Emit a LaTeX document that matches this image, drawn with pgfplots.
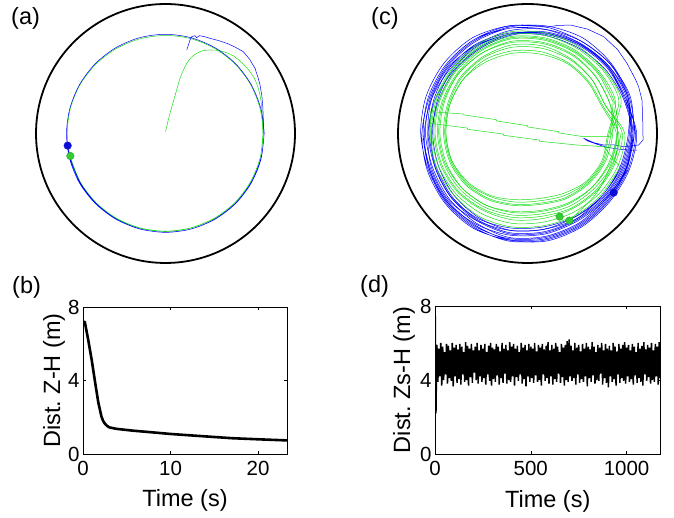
\documentclass[border=0pt]{standalone}
\usepackage{fontspec}
\setmainfont{Liberation Sans}
\usepackage{pgfplots}
\pgfplotsset{compat=1.18}
\usepgfplotslibrary{polar}

\definecolor{trajblue}{rgb}{0,0,1}
\definecolor{trajgreen}{rgb}{0.1,0.88,0.1}
\definecolor{dotblue}{rgb}{0.05,0.05,0.85}
\definecolor{dotgreen}{rgb}{0.2,0.8,0.2}

\pgfplotsset{
  arena/.style={hide axis, scale only axis, width=264pt, height=264pt,
    xmin=-11, xmax=11, ymin=-11, ymax=11, clip=false, anchor=south west},
  dist/.style={scale only axis, anchor=south west, ymin=0, ymax=8, ytick={0,4,8},
    tick align=inside, major tick length=3pt,
    axis line style={line width=0.7pt},
    every tick/.style={black, line width=0.6pt},
    tick label style={font=\fontsize{20.5}{22}\selectfont},
    label style={font=\fontsize{23.5}{25}\selectfont},
    /pgf/number format/assume math mode=true,
    /pgf/number format/1000 sep={},
    xticklabel style={yshift=-4pt},
    xlabel={Time (s)},
    xlabel style={at={(axis description cs:0.5,-0.36)}, anchor=base},
  },
  traj/.style={line width=0.5pt, line join=round},
}

\begin{document}
\begin{tikzpicture}
\path (0,0) rectangle (674pt,518pt);

% ---------------- (a) ----------------
\begin{axis}[arena, at={(33.5pt,252.5pt)}]
\draw[line width=1.8pt] (axis cs:0,0) circle[radius=10.79];
% green: from centre, then round the ring
\addplot[traj, trajgreen, smooth] coordinates {
 (0,0.15)(0.3,1.4)(0.65,2.65)(0.95,3.7)(1.21,4.6)(1.5,5.3)(1.77,5.85)(2.15,6.35)
 (2.6,6.68)(3.1,6.9)(3.71,6.96)(4.3,6.93)(4.82,6.82)(5.4,6.6)(5.93,6.27)(6.5,5.77)
 (7.04,5.15)(7.45,4.5)(7.73,3.77)(7.93,2.9)(8.02,2.1)(8.07,1.3)(8.1,0.6)(8.12,0)};
\addplot[traj, trajgreen, data cs=polar, smooth] coordinates {
 (0,8.12)(-15,8.15)(-30,8.17)(-45,8.18)(-60,8.17)(-75,8.16)(-90,8.17)(-105,8.18)
 (-120,8.2)(-135,8.2)(-150,8.19)(-165,8.18)(-180,8.19)(-195,8.2)(-210,8.2)(-225,8.19)
 (-240,8.18)(-255,8.17)(-270,8.17)(-285,8.18)(-300,8.19)(-315,8.19)(-330,8.18)(-345,8.15)
 (-360,8.13)(-375,8.14)(-390,8.15)(-405,8.16)(-420,8.15)(-435,8.14)(-450,8.14)(-465,8.15)
 (-480,8.16)(-495,8.17)(-510,8.17)(-525,8.17)(-526.7,8.18)};
% blue: from near the top, then round the ring
\addplot[traj, trajblue] coordinates {
 (1.77,6.96)(1.95,7.5)(2.04,7.79)(2.18,8.07)(2.46,8.15)(2.6,7.98)(2.82,8.15)(3.2,8.08)
 (3.71,7.93)(4.4,7.75)(5.1,7.52)(5.8,7.2)(6.48,6.82)(7.0,6.2)(7.46,5.43)(7.7,4.7)
 (7.88,4.04)(8.02,3.2)(8.1,2.38)(8.14,1.5)(8.16,0.71)(8.22,0)};
\addplot[traj, trajblue, data cs=polar, smooth] coordinates {
 (0,8.22)(-15,8.24)(-30,8.25)(-45,8.26)(-60,8.25)(-75,8.24)(-90,8.23)(-105,8.24)
 (-120,8.25)(-135,8.26)(-150,8.27)(-165,8.26)(-180,8.25)(-195,8.24)(-210,8.24)(-225,8.25)
 (-240,8.26)(-255,8.27)(-270,8.27)(-285,8.26)(-300,8.25)(-315,8.24)(-330,8.22)(-345,8.21)
 (-360,8.2)(-375,8.21)(-390,8.22)(-405,8.23)(-420,8.23)(-435,8.24)(-450,8.24)(-465,8.23)
 (-480,8.22)(-495,8.21)(-510,8.2)(-525,8.2)(-532.7,8.2)};
\addplot[only marks, mark=*, mark size=3.8pt, dotblue] coordinates {(-8.15,-1.01)};
\addplot[only marks, mark=*, mark size=3.8pt, dotgreen, mark options={draw=dotgreen!80!black}] coordinates {(-7.93,-1.875)};
\end{axis}

% ---------------- (c) ----------------
\begin{axis}[arena, at={(395.5pt,252.5pt)}]
\draw[line width=1.8pt] (axis cs:0,0) circle[radius=10.79];
% blue loops
\addplot[traj, trajblue, data cs=polar, smooth] coordinates {
 (0,8.9)(-20,8.8)(-40,8.7)(-60,8.8)(-80,8.9)(-100,9.0)(-120,9.1)(-140,9.0)(-160,8.9)
 (-180,8.8)(-200,8.7)(-220,8.8)(-240,8.9)(-260,9.0)(-280,9.1)(-300,9.2)(-320,9.1)(-340,9.0)
 (0,8.9)(-20,8.7)(-40,8.5)(-60,8.4)(-80,8.5)(-100,8.6)(-120,8.7)(-140,8.8)(-160,8.7)
 (-180,8.6)(-200,8.5)(-220,8.4)(-240,8.5)(-260,8.7)(-280,8.8)(-300,8.9)(-320,9.0)(-340,8.9)
 (0,8.7)(-20,8.5)(-40,8.3)(-60,8.2)(-80,8.1)(-100,8.2)(-120,8.4)(-140,8.6)(-160,8.5)
 (-180,8.3)(-200,8.2)(-220,8.1)(-240,8.2)(-260,8.4)(-280,8.6)(-300,8.7)(-320,8.8)(-340,8.8)
 (0,8.6)(-20,8.4)(-40,8.2)(-60,8.0)(-80,7.9)(-100,8.0)(-120,8.2)(-140,8.3)(-160,8.2)
 (-180,8.0)(-200,7.9)(-220,8.0)(-240,8.1)(-260,8.3)(-280,8.5)(-300,8.6)(-320,8.7)(-340,8.7)
 (0,9.0)(-20,8.9)(-40,8.8)(-60,8.9)(-80,9.0)(-100,9.1)(-120,9.0)(-140,8.9)(-160,8.8)
 (-180,8.9)(-200,9.0)(-220,9.1)(-240,9.2)(-260,9.1)(-280,9.0)};
\addplot[traj, trajblue] coordinates {
 (1.56,8.86)(2.5,9.0)(3.57,9.04)(5.0,8.7)(6.35,8.07)(7.5,7.0)(8.29,5.85)(9.0,4.5)
 (9.26,3.9)(9.54,2.79)(9.6,1.2)(9.63,-0.54)(9.26,-0.96)(8.01,-1.1)(7.2,-0.95)(6.35,-0.96)
 (5.51,-0.76)(4.68,-0.4)(5.0,-0.62)(5.8,-0.9)(6.6,-1.15)(7.6,-1.3)(8.6,-1.4)(9.13,-1.38)};
\addplot[traj, trajblue, data cs=polar, smooth] coordinates {
 (-20,8.9)(-40,8.5)(-60,8.6)(-80,8.7)(-100,8.8)(-120,8.6)(-140,8.5)(-160,8.4)
 (-180,8.5)(-200,8.6)(-220,8.7)(-240,8.8)(-260,8.9)(-280,8.8)(-300,8.7)(-320,8.8)(-340,8.9)
 (0,8.5)(-20,8.3)(-40,8.1)(-60,8.2)(-80,8.3)(-100,8.4)(-120,8.3)(-140,8.2)(-160,8.1)
 (-180,8.2)(-200,8.3)(-220,8.5)(-240,8.6)(-260,8.5)(-280,8.4)(-300,8.5)(-320,8.6)(-340,8.6)
 (0,9.1)(-20,9.0)(-40,8.9)(-60,9.0)(-80,9.1)(-100,9.0)(-120,8.8)(-140,8.7)(-160,8.6)
 (-180,8.7)(-200,8.8)(-220,8.9)(-240,9.0)(-260,9.1)(-280,9.0)(-300,8.9)(-320,9.0)(-340,9.1)
 (0,8.8)(-20,8.7)(-40,8.6)(-60,8.7)(-80,8.8)(-100,8.9)(-120,8.9)(-140,8.8)(-160,8.7)
 (-180,8.7)(-200,8.8)(-220,8.9)(-240,9.0)(-260,8.9)(-280,8.8)(-300,8.7)(-320,8.8)(-340,8.9)
 (0,8.4)(-20,8.2)(-40,8.1)(-60,8.0)(-80,8.1)(-100,8.2)(-120,8.1)(-140,8.0)(-160,7.9)
 (-180,7.9)(-200,8.0)(-220,8.2)(-240,8.4)(-260,8.4)(-280,8.3)(-300,8.3)(-320,8.4)(-340,8.5)
 (0,8.7)(-20,8.6)(-40,8.4)(-60,8.3)(-80,8.4)(-100,8.5)(-120,8.4)(-140,8.3)(-160,8.2)
 (-180,8.3)(-200,8.5)(-220,8.6)(-240,8.5)(-260,8.4)(-280,8.5)(-300,8.6)(-320,8.7)(-340,8.6)
 (0,8.8)(-20,8.75)(-34.5,8.71)};
% green loops
\addplot[traj, trajgreen, data cs=polar, smooth] coordinates {
 (0,7.8)(-20,7.6)(-40,7.4)(-60,7.2)(-80,7.0)(-100,7.1)(-120,7.3)(-140,7.5)(-160,7.6)
 (-180,7.7)(-200,7.8)(-220,7.9)(-240,8.0)(-260,8.1)(-280,8.0)(-300,7.9)(-320,7.8)(-340,7.7)
 (0,7.5)(-20,7.3)(-40,7.0)(-60,6.7)(-80,6.5)(-100,6.6)(-120,6.9)(-140,7.1)(-160,7.2)
 (-180,7.3)(-200,7.4)(-220,7.6)(-240,7.7)(-260,7.8)(-280,7.7)(-300,7.6)(-320,7.4)(-340,7.3)
 (0,7.1)(-20,6.9)(-40,6.6)(-60,6.3)(-80,6.0)(-100,6.1)(-120,6.4)(-140,6.7)(-160,6.9)
 (-180,7.0)(-200,7.1)(-220,7.3)(-240,7.4)(-260,7.5)(-280,7.4)(-300,7.2)(-320,7.0)(-340,6.9)
 (0,8.1)(-20,8.0)(-40,7.8)(-60,7.6)(-80,7.5)(-100,7.6)(-120,7.7)(-140,7.8)(-160,7.9)
 (-180,8.0)(-200,8.1)(-220,8.2)(-240,8.3)(-260,8.4)(-280,8.3)(-300,8.2)(-320,8.2)(-340,8.1)
 (0,6.8)(-20,6.7)(-40,6.4)(-60,6.0)(-80,5.7)(-100,5.8)(-120,6.1)(-140,6.5)(-160,6.7)
 (-180,6.8)(-200,6.9)(-220,7.0)(-240,7.1)(-260,7.0)(-280,6.9)(-300,6.8)(-320,6.7)(-340,6.7)
 (0,7.6)(-20,7.5)(-40,7.2)(-60,7.0)(-80,6.8)(-100,6.9)(-120,7.1)(-140,7.3)(-160,7.4)
 (-180,7.5)(-200,7.6)(-220,7.7)(-240,7.9)(-260,8.0)(-280,7.9)(-300,7.8)(-320,7.7)(-340,7.6)};
\addplot[traj, trajgreen] coordinates {
 (7.14,2.6)(6.88,-0.27)(4.68,-0.27)(2.6,0.05)(2.6,0.15)(0.0,0.55)(0.0,0.65)(-2.6,1.05)(-2.6,1.15)
 (-5.3,1.55)(-5.3,1.62)(-8.1,1.82)(-8.1,0.85)(-5.0,0.45)(-5.0,0.35)(-2.0,-0.05)(-2.0,-0.15)
 (1.0,-0.55)(1.0,-0.65)(4.13,-0.96)(6.35,-1.1)(7.7,-2.8)};
\addplot[traj, trajgreen, data cs=polar, smooth] coordinates {
 (-20,8.2)(-40,8.0)(-60,7.9)(-80,7.8)(-100,7.9)(-120,8.0)(-140,8.0)(-160,8.1)
 (-180,8.1)(-200,8.2)(-220,8.3)(-240,8.5)(-260,8.6)(-280,8.5)(-300,8.4)(-320,8.3)(-340,8.3)
 (0,7.0)(-20,6.8)(-40,6.5)(-60,6.2)(-80,5.9)(-100,6.0)(-120,6.3)(-140,6.6)(-160,6.8)
 (-180,6.9)(-200,7.0)(-220,7.2)(-240,7.3)(-260,7.3)(-280,7.2)(-300,7.1)(-320,7.0)(-340,6.9)
 (0,7.9)(-20,7.7)(-40,7.5)(-60,7.3)(-80,7.2)(-100,7.3)(-120,7.4)(-140,7.6)(-160,7.7)
 (-180,7.8)(-200,7.9)(-220,8.0)(-240,8.2)(-260,8.2)(-280,8.1)(-300,8.0)(-320,7.9)(-340,7.8)
 (0,6.7)(-20,6.6)(-40,6.3)(-60,5.8)(-80,5.5)(-100,5.6)(-120,6.0)(-140,6.4)(-160,6.7)
 (-180,6.8)(-200,6.9)(-220,7.0)(-240,6.9)(-260,6.8)(-280,6.7)(-300,6.7)(-320,6.6)(-340,6.6)
 (0,7.4)(-20,7.2)(-40,7.0)(-60,6.8)(-80,6.6)(-100,6.7)(-120,6.9)(-140,7.1)(-160,7.3)
 (-180,7.4)(-200,7.5)(-220,7.6)(-240,7.7)(-260,7.7)(-280,7.6)(-300,7.5)(-320,7.4)(-340,7.3)
 (0,7.5)(-20,7.4)(-40,7.6)(-60,7.9)(-64.3,8.06)};
\addplot[only marks, mark=*, mark size=3.8pt, dotblue] coordinates {(7.18,-4.93)};
\addplot[only marks, mark=*, mark size=3.8pt, dotgreen, mark options={draw=dotgreen!80!black}] coordinates {(2.68,-6.93)(3.49,-7.26)};
\end{axis}

% ---------------- (b) ----------------
\begin{axis}[dist, at={(83pt,64pt)}, width=204pt, height=147pt,
  xmin=0, xmax=23.3, xtick={0,10,20},
  ylabel={Dist.\ Z-H (m)},
  ylabel style={at={(axis description cs:-0.142,0.5)}, anchor=center}]
\addplot[black, line width=2.6pt, line join=round, line cap=round] coordinates {
 (0.2,7.2)(0.6,6.2)(1.0,5.1)(1.4,3.85)(1.75,2.8)(2.1,2.05)(2.3,1.8)(2.5,1.65)(2.7,1.55)
 (3.0,1.45)(3.8,1.37)(5.7,1.27)(8.6,1.15)(10,1.09)(13,0.99)(17,0.86)(20,0.8)(23.3,0.74)};
\end{axis}

% ---------------- (d) ----------------
\begin{axis}[dist, at={(435pt,64pt)}, width=225.5pt, height=148pt,
  xmin=0, xmax=1177, xtick={0,500,1000},
  ylabel={Dist.\ Zs-H (m)},
  ylabel style={at={(axis description cs:-0.137,0.5)}, anchor=center}]
\addplot[black, line width=1.5pt, line join=bevel] coordinates {
 (0,7.7)(1.5,7.4)(3,4.5)(5,2.2)(7,3.8)(8,5.8)
 (10,5.9)(15,3.9)(20,5.7)(25,4.2)(30,6.0)(35,3.7)(40,5.8)(45,4.0)(50,5.5)(55,4.3)
 (60,5.95)(65,3.8)(70,5.85)(75,4.1)(80,5.6)(85,3.95)(90,6.0)(95,3.65)(100,5.75)(105,4.2)
 (110,5.9)(115,3.85)(120,5.65)(125,4.05)(130,5.95)(135,3.75)(140,5.8)(145,4.3)(150,5.5)(155,3.9)
 (160,6.05)(165,4.0)(170,5.85)(175,3.7)(180,5.7)(185,4.15)(190,5.95)(195,3.85)(200,5.6)(205,4.4)
 (210,5.8)(215,4.0)(220,6.0)(225,3.8)(230,5.6)(235,4.2)(240,5.9)(245,3.9)(250,5.7)(255,4.1)
 (260,5.95)(265,3.75)(270,5.5)(275,4.3)(280,5.85)(285,3.95)(290,6.0)(295,3.7)(300,5.75)(305,4.05)
 (310,5.65)(315,3.9)(320,5.95)(325,4.25)(330,5.8)(335,3.75)(340,5.55)(345,4.1)(350,6.0)(355,3.85)
 (360,5.7)(365,4.35)(370,5.9)(375,3.8)(380,5.6)(385,4.0)(390,6.05)(395,3.9)(400,5.8)(405,4.2)
 (410,5.95)(415,3.7)(420,5.7)(425,4.15)(430,5.85)(435,3.95)(440,5.5)(445,4.3)(450,6.0)(455,3.8)
 (460,5.75)(465,4.05)(470,5.9)(475,3.65)(480,5.6)(485,4.2)(490,5.95)(495,3.9)(500,5.8)(505,4.1)
 (510,5.7)(515,3.85)(520,6.0)(525,4.25)(530,5.55)(535,3.9)(540,5.9)(545,4.0)(550,5.75)(555,3.7)
 (560,5.95)(565,4.3)(570,5.65)(575,3.95)(580,5.85)(585,4.1)(590,6.05)(595,3.8)(600,5.6)(605,4.2)
 (610,5.9)(615,3.75)(620,5.7)(625,4.05)(630,6.0)(635,3.9)(640,5.8)(645,4.35)(650,5.5)(655,3.85)
 (660,5.95)(665,4.15)(670,5.75)(675,3.7)(680,5.9)(685,4.0)(690,6.1)(695,3.9)(700,6.2)(705,4.2)
 (710,5.85)(715,3.95)(720,5.6)(725,4.1)(730,6.0)(735,3.75)(740,5.75)(745,4.3)(750,5.9)(755,3.85)
 (760,5.55)(765,4.05)(770,5.95)(775,3.9)(780,5.7)(785,4.2)(790,6.0)(795,3.65)(800,5.8)(805,4.1)
 (810,5.65)(815,3.9)(820,6.05)(825,4.25)(830,5.8)(835,3.8)(840,5.5)(845,4.0)(850,5.9)(855,3.95)
 (860,5.75)(865,4.35)(870,6.0)(875,3.75)(880,5.6)(885,4.1)(890,5.95)(895,3.85)(900,5.7)(905,3.6)
 (910,5.85)(915,4.2)(920,5.6)(925,3.9)(930,6.0)(935,4.05)(940,5.8)(945,3.7)(950,5.55)(955,4.3)
 (960,5.95)(965,3.85)(970,5.7)(975,4.1)(980,5.9)(985,3.95)(990,6.05)(995,3.8)(1000,5.75)(1005,4.2)
 (1010,5.9)(1015,3.9)(1020,5.6)(1025,4.05)(1030,5.95)(1035,3.75)(1040,5.8)(1045,4.25)(1050,5.5)(1055,3.85)
 (1060,6.0)(1065,4.1)(1070,5.7)(1075,3.9)(1080,5.85)(1085,3.7)(1090,6.05)(1095,4.3)(1100,5.65)(1105,3.95)
 (1110,5.9)(1115,4.15)(1120,5.75)(1125,3.8)(1130,6.0)(1135,4.0)(1140,5.6)(1145,3.9)(1150,5.95)(1155,4.2)
 (1160,5.8)(1165,3.75)(1170,6.05)(1175,4.1)(1177,5.9)};
\end{axis}

% panel letters
\node[anchor=base west, inner sep=0pt, font=\fontsize{23.5}{25}\selectfont] at (11pt,493pt) {(a)};
\node[anchor=base west, inner sep=0pt, font=\fontsize{23.5}{25}\selectfont] at (371pt,493pt) {(c)};
\node[anchor=base west, inner sep=0pt, font=\fontsize{23.5}{25}\selectfont] at (12pt,224.5pt) {(b)};
\node[anchor=base west, inner sep=0pt, font=\fontsize{23.5}{25}\selectfont] at (360pt,225.5pt) {(d)};
\end{tikzpicture}
\end{document}
